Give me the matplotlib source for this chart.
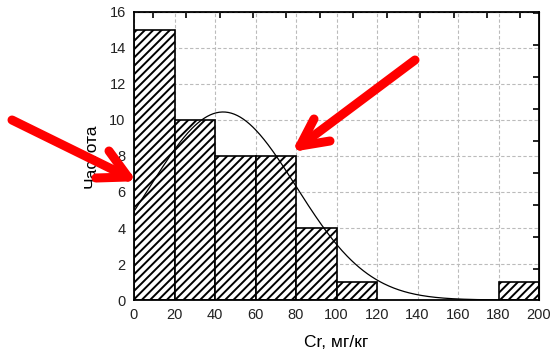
import numpy as np
import matplotlib
matplotlib.use("Agg")
import matplotlib.pyplot as plt

plt.rcParams['font.family'] = ['Liberation Sans', 'DejaVu Sans']
plt.rcParams['hatch.linewidth'] = 1.4
plt.rcParams['hatch.color'] = '#3a3a3a'

bin_edges = [0, 20, 40, 60, 80, 100, 120, 140, 160, 180, 200]
counts = [15, 10, 8, 8, 4, 1, 0, 0, 0, 1]
fit_mean = 44.0
fit_std = 35.9

fig = plt.figure(figsize=(5.52, 3.61), dpi=100)
ax = fig.add_axes([134/552, 61/361, 405/552, 288/361])

lefts = bin_edges[:-1]
widths = np.diff(bin_edges)
for l, w, c in zip(lefts, widths, counts):
    if c > 0:
        ax.bar(l, c, width=w, align='edge', color='white', edgecolor='black',
               linewidth=1.2, hatch='////', zorder=2)

n = sum(counts)
xs = np.linspace(0, 200, 400)
ys = n * 20 * np.exp(-(xs - fit_mean) ** 2 / (2 * fit_std ** 2)) / (fit_std * np.sqrt(2 * np.pi))
ax.plot(xs, ys, color='black', lw=0.9, zorder=3)

ax.set_xlim(0, 200)
ax.set_ylim(0, 16)
ax.set_xticks(range(0, 201, 20))
ax.set_yticks(range(0, 17, 2))
ax.tick_params(length=0, labelsize=10.5, pad=6, colors='#222222')
ax.grid(True, color='#bbbbbb', linestyle=(0, (3, 2)), lw=0.8, zorder=0)
ax.set_axisbelow(True)
for s in ax.spines.values():
    s.set_linewidth(1.3)
    s.set_zorder(4)

top = ax.secondary_xaxis('top')
top.set_xticks(np.arange(9.3, 200, 16.5))
top.tick_params(direction='in', length=4, width=1.2, labeltop=False)
right = ax.secondary_yaxis('right')
right.set_yticks(np.arange(1.72, 16, 1.78))
right.tick_params(direction='in', length=4, width=1.2, labelright=False)

ax.set_xlabel('Cr, мг/кг', fontsize=12.5, labelpad=9)
ax.set_ylabel('Частота', fontsize=12.5, labelpad=8)

def red_arrow(tail, tip, w1, w2):
    kw = dict(color='red', lw=6.5, solid_capstyle='round', transform=None,
              zorder=10, clip_on=False)
    H = 361
    for a, b in [(tail, tip), (w1, tip), (w2, tip)]:
        fig.add_artist(plt.Line2D([a[0], b[0]], [H - a[1], H - b[1]], **kw))

red_arrow((12, 120), (128, 177), (109, 151), (96, 178))
red_arrow((415, 60), (300, 146), (314, 119), (330, 141))

fig.savefig('out.png', dpi=100)
